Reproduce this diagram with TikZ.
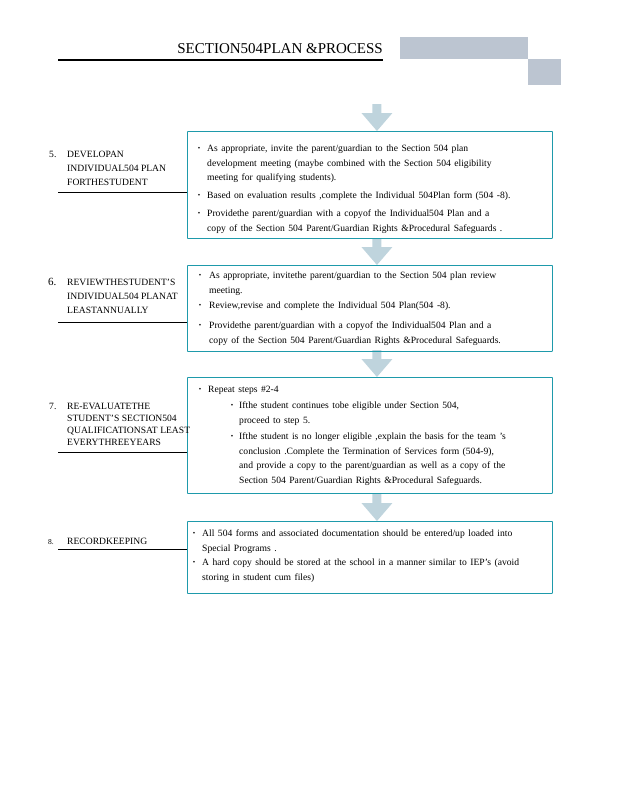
\documentclass[tikz,border=0pt]{standalone}
\usepackage{fontspec}
\setmainfont{Liberation Serif}
\usepackage{tikz}
\usetikzlibrary{backgrounds}
\definecolor{boxteal}{HTML}{1E9AAB}
\definecolor{arrowfill}{HTML}{BFD4DD}
\definecolor{bannergray}{HTML}{BCC5D1}
\newcommand{\itemfont}[1]{\fontsize{9.6}{#1}\selectfont\spaceskip=3.5pt plus 1pt minus 0.5pt}
\tikzset{
    box/.style={draw=boxteal,line width=0.9pt,rounded corners=0.6pt,anchor=north west,inner sep=0pt},
    itemtext/.style={anchor=north west,inner sep=0pt,align=left,font=\itemfont{14.5}},
    dotmark/.style={inner sep=0pt,font=\fontsize{7}{7}\selectfont},
    steplabel/.style={anchor=north west,inner sep=0pt,align=left,font=\fontsize{9.6}{14}\selectfont},
    rule/.style={line width=0.8pt},
    flowarrow/.pic={\fill[arrowfill] (-4.5,-27) -- (4.5,-27) -- (4.5,-18) -- (15.5,-18) -- (0,0) -- (-15.5,-18) -- (-4.5,-18) -- cycle;}
}

\begin{document}
\begin{tikzpicture}[x=1pt,y=-1pt]
    \useasboundingbox (0,0) rectangle (618,800);

    \node[anchor=base east,inner sep=0pt,font=\fontsize{15}{15}\selectfont] (title) at (383,53) {SECTION504PLAN \&PROCESS};
    \draw[line width=1.8pt] (58,60) -- (title.east |- 0,60);
    \fill[bannergray] (400,37) rectangle (528,59);
    \fill[bannergray] (528,59) rectangle (561,85);

    \node[box,minimum width=365,minimum height=107] (plan) at (187,131) {};
    \node[box,minimum width=365,minimum height=86] (review) at (187,265) {};
    \node[box,minimum width=365,minimum height=116] (reeval) at (187,377) {};
    \node[box,minimum width=365,minimum height=72] (records) at (187,521) {};

    \begin{scope}[on background layer]
        \foreach \b in {plan,review,reeval,records} {\pic at ([xshift=7pt]\b.north) {flowarrow};}
    \end{scope}

    \node[steplabel] (num5) at (49,151) {5.};
    \node[steplabel] (lab5) at (67,151) {DEVELOPAN\\INDIVIDUAL504 PLAN\\FORTHESTUDENT};
    \node[steplabel,font=\fontsize{11}{14}\selectfont] (num6) at (48,278) {6.};
    \node[steplabel] (lab6) at (67,279) {REVIEWTHESTUDENT'S\\INDIVIDUAL504 PLANAT\\LEASTANNUALLY};
    \node[steplabel] (num7) at (49,403) {7.};
    \node[steplabel,font=\fontsize{9.6}{12}\selectfont] (lab7) at (67,403) {RE-EVALUATETHE\\STUDENT'S SECTION504\\QUALIFICATIONSAT LEAST\\EVERYTHREEYEARS};
    \node[steplabel,font=\fontsize{7.5}{14}\selectfont] (num8) at (48,539) {8.};
    \node[steplabel] (lab8) at (67,538) {RECORDKEEPING};
    \foreach \y in {192,322,452,549} {\draw[rule] (58,\y) -- (plan.west |- 0,\y);}

    \foreach \x/\y in {199/149,199/196,199/214,200/276,200/306,200/326,200/390,232/406,232/437,194/534,194/563}
        {\node[dotmark] at (\x,\y) {•};}

    \node[itemtext] (p1) at (207,145) {As appropriate, invite the parent/guardian to the Section 504 plan\\development meeting (maybe combined with the Section 504 eligibility\\meeting for qualifying students).};
    \node[itemtext] (p2) at (207,192) {Based on evaluation results ,complete the Individual 504Plan form (504 -8).};
    \node[itemtext] (p3) at (207,210) {Providethe parent/guardian with a copyof the Individual504 Plan and a\\copy of the Section 504 Parent/Guardian Rights \&Procedural Safeguards .};

    \node[itemtext] (r1) at (209,272) {As appropriate, invitethe parent/guardian to the Section 504 plan review\\meeting.};
    \node[itemtext] (r2) at (209,302) {Review,revise and complete the Individual 504 Plan(504 -8).};
    \node[itemtext] (r3) at (209,322) {Providethe parent/guardian with a copyof the Individual504 Plan and a\\copy of the Section 504 Parent/Guardian Rights \&Procedural Safeguards.};

    \node[itemtext] (e1) at (208,386) {Repeat steps \#2-4};
    \node[itemtext] (e2) at (239,402) {Ifthe student continues tobe eligible under Section 504,\\proceed to step 5.};
    \node[itemtext] (e3) at (239,433) {Ifthe student is no longer eligible ,explain the basis for the team 's\\conclusion .Complete the Termination of Services form (504-9),\\and provide a copy to the parent/guardian as well as a copy of the\\Section 504 Parent/Guardian Rights \&Procedural Safeguards.};

    \node[itemtext,font=\itemfont{15}] (k1) at (202,530) {All 504 forms and associated documentation should be entered/up loaded into\\Special Programs .};
    \node[itemtext,font=\itemfont{15}] (k2) at (202,559) {A hard copy should be stored at the school in a manner similar to IEP's (avoid\\storing in student cum files)};
\end{tikzpicture}
\end{document}
